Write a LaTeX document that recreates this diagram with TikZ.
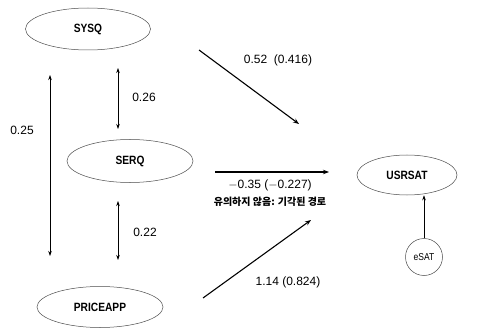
\documentclass[tikz,border=0pt]{standalone}
\usepackage{fontspec}
\setmainfont{Liberation Sans}
\newfontfamily\nodefont[FakeStretch=0.85]{Liberation Sans}
\newfontfamily\kofont{Noto Sans CJK KR}
\usetikzlibrary{shapes.geometric,arrows.meta}
\begin{document}
\begin{tikzpicture}[x=1pt,y=-1pt,
  ell/.style={ellipse,draw=black!70,line width=0.5pt,inner sep=0pt,font=\nodefont\fontsize{12}{14}\selectfont\bfseries},
  circ/.style={circle,draw=black!70,line width=0.5pt,inner sep=0pt,minimum size=37pt,font=\nodefont\fontsize{10}{12}\selectfont},
  path/.style={line width=1.1pt,-{Stealth[length=6pt,width=4.5pt]}},
  corr/.style={line width=0.6pt,{Stealth[length=5pt,width=3.5pt]}-{Stealth[length=5pt,width=3.5pt]}},
  lab/.style={font=\fontsize{12}{14}\selectfont,inner sep=0pt},
  kolab/.style={font=\kofont\fontsize{10}{12}\selectfont\bfseries,inner sep=0pt}]
\useasboundingbox (0,0) rectangle (480,329);
\node[ell,minimum width=125pt,minimum height=42pt] (sysq) at (88,29) {SYSQ};
\node[ell,minimum width=126pt,minimum height=43pt] (serq) at (130,161) {SERQ};
\node[ell,minimum width=126pt,minimum height=41pt] (price) at (100,307) {PRICEAPP};
\node[ell,minimum width=100pt,minimum height=40pt] (usr) at (407,175) {USRSAT};
\node[circ] (esat) at (424,257) {eSAT};
% endpoints
\coordinate (a1) at (50,75);
\coordinate (a2) at (50,256);
\coordinate (b1) at (118,68);
\coordinate (b2) at (118,129);
\coordinate (c1) at (118,201);
\coordinate (c2) at (118,260);
\coordinate (d1) at (199,50);
\coordinate (d2) at (299,124);
\coordinate (e1) at (215,172);
\coordinate (e2) at (329,172);
\coordinate (f1) at (203,298);
\coordinate (f2) at (311,220);
\draw[corr] (a1) -- (a2);
\draw[corr] (b1) -- (b2);
\draw[corr] (c1) -- (c2);
\draw[path] (d1) -- (d2);
\draw[path] (e1) -- (e2);
\draw[path] (f1) -- (f2);
\draw[line width=0.6pt,-{Stealth[length=5pt,width=3.5pt]}] (esat) -- (usr.south -| esat);
% labels
\node[lab] (l25) at (22,130) {0.25};
\node[lab] (l26) at (144,97) {0.26};
\node[lab] (l22) at (145,232) {0.22};
\node[lab] (l52) at (278,60) {0.52\ \ (0.416)};
\node[lab] (l35) at (270,185) {$-$0.35 ($-$0.227)};
\node[kolab] (lko) at (270,202) {유의하지 않음: 기각된 경로};
\node[lab] (l14) at (288,282) {1.14 (0.824)};
\end{tikzpicture}
\end{document}
